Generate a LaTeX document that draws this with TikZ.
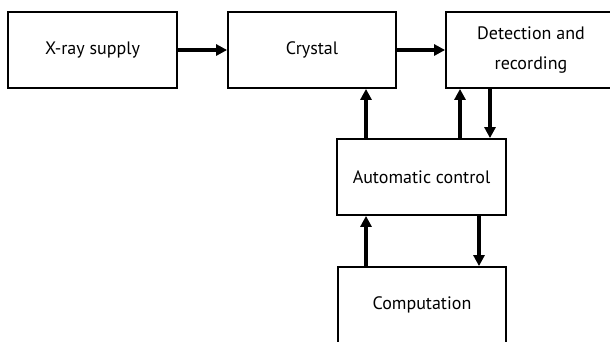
\documentclass[tikz,border=0pt]{standalone}
\usepackage{fontspec}
\setmainfont{PT Sans}
\usetikzlibrary{arrows.meta}
\begin{document}
\begin{tikzpicture}[x=1pt,y=-1pt,
  blk/.style={draw, line width=1.8pt, inner sep=0pt, minimum height=76pt,
    font=\fontsize{18}{30}\selectfont, align=center},
  arr/.style={line width=3.6pt, -{Triangle[length=11pt,width=11pt]}}]
\useasboundingbox[fill=white] (0,0) rectangle (610,341);
\node[blk, minimum width=169pt] (xray) at (92.5,50) {X-ray supply};
\node[blk, minimum width=168pt] (crystal) at (312,50) {Crystal};
\node[blk, minimum width=170pt] (det) at (531,50) {Detection and\\recording};
\node[blk, minimum width=169pt] (ac) at (421.5,177) {Automatic control};
\node[blk, minimum width=168pt] (comp) at (422,305) {Computation};
\draw[arr] (xray.east) -- (crystal.west);
\draw[arr] (crystal.east) -- (det.west);
\draw[arr] (366,0 |- ac.north) -- (366,0 |- crystal.south);
\draw[arr] (460,0 |- ac.north) -- (460,0 |- det.south);
\draw[arr] (490,0 |- det.south) -- (490,0 |- ac.north);
\draw[arr] (366,0 |- comp.north) -- (366,0 |- ac.south);
\draw[arr] (479,0 |- ac.south) -- (479,0 |- comp.north);
\end{tikzpicture}
\end{document}
